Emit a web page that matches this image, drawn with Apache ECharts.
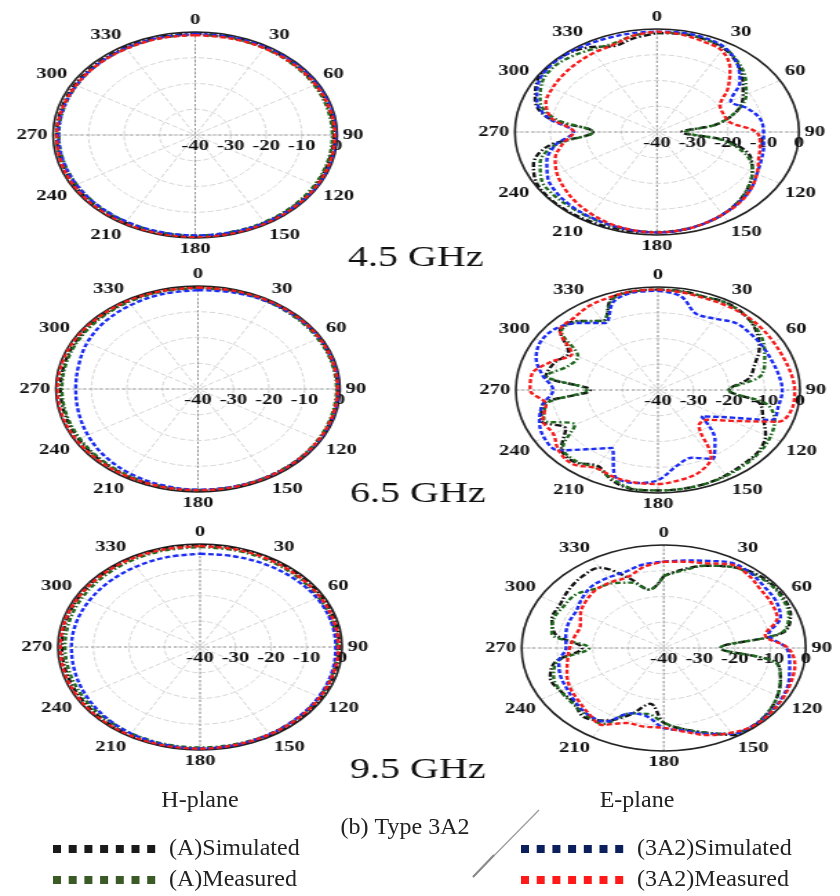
<!DOCTYPE html>
<html><head><meta charset="utf-8">
<script src="https://cdn.jsdelivr.net/npm/echarts@6/dist/echarts.min.js"></script>
<style>
html,body{margin:0;padding:0;background:#fff;width:840px;height:896px;overflow:hidden}
#topChart{position:absolute;left:0;top:0;width:609px;height:790px;transform:scaleX(1.3793);transform-origin:0 0}
#botChart{position:absolute;left:0;top:785px;width:840px;height:111px}
</style></head><body>
<div id="topChart"></div><div id="botChart"></div>
<script>
// ---------- DATA ----------
const hAngles = [0,15,30,45,60,75,90,105,120,135,150,165,180,195,210,225,240,255,270,285,300,315,330,345];
const eAngles = [0,10,20,30,40,50,60,70,80,90,100,110,120,130,140,150,160,170,180,190,200,210,220,230,240,250,260,270,280,290,300,310,320,330,340,350];
const angleTicks = [0,30,60,90,120,150,180,210,240,270,300,330];
const radiusTicks = [-40,-30,-20,-10,0];
const seriesNames = ['(A)Simulated','(A)Measured','(3A2)Simulated','(3A2)Measured'];
const freqLabels = ['4.5 GHz','6.5 GHz','9.5 GHz'];

// H-plane 4.5 GHz
const h45Black = [-0.6,-0.6,-0.7,-0.8,-0.9,-1,-1,-1,-0.9,-0.8,-0.7,-0.6,-0.6,-0.6,-0.7,-0.8,-0.9,-1,-1,-1,-0.9,-0.8,-0.7,-0.6];
const h45Green = [-1,-1,-1.1,-1.2,-1.3,-1.4,-1.4,-1.3,-1.2,-1.1,-1,-1,-1,-1,-1.1,-1.3,-1.5,-1.6,-1.6,-1.6,-1.5,-1.3,-1.2,-1.1];
const h45Blue  = [-0.8,-0.7,-0.6,-0.5,-0.3,-0.2,-0.1,-0.2,-0.3,-0.5,-0.7,-0.9,-1,-1.1,-1.2,-1.3,-1.4,-1.5,-1.5,-1.5,-1.4,-1.2,-1,-0.9];
const h45Red   = [-1.2,-1.2,-1.1,-1,-0.9,-0.8,-0.7,-0.6,-0.5,-0.4,-0.3,-0.3,-0.3,-0.3,-0.3,-0.4,-0.6,-0.8,-1,-1.2,-1.3,-1.3,-1.3,-1.2];
// H-plane 6.5 GHz
const h65Black = [-0.5,-0.5,-0.6,-0.6,-0.7,-0.7,-0.7,-0.7,-0.6,-0.6,-0.5,-0.5,-0.5,-0.6,-0.8,-1,-1.2,-1.3,-1.3,-1.2,-1,-0.8,-0.6,-0.5];
const h65Green = [-0.8,-0.8,-0.9,-1,-1,-1,-1,-1,-0.9,-0.8,-0.8,-0.8,-0.8,-0.9,-1.1,-1.4,-1.6,-1.7,-1.7,-1.6,-1.4,-1.2,-1,-0.9];
const h65Blue  = [-1.6,-1.2,-0.8,-0.6,-0.5,-0.4,-0.4,-0.4,-0.5,-0.6,-0.7,-0.8,-0.9,-1.3,-2,-3,-4.2,-5.2,-5.6,-5.2,-4,-3,-2.3,-1.8];
const h65Red   = [-0.6,-0.5,-0.4,-0.4,-0.5,-0.6,-0.7,-0.7,-0.7,-0.6,-0.6,-0.6,-0.7,-0.7,-0.7,-0.6,-0.5,-0.4,-0.4,-0.4,-0.4,-0.5,-0.5,-0.6];
// H-plane 9.5 GHz
const h95Black = [-0.3,-0.3,-0.4,-0.5,-0.6,-0.7,-0.8,-0.8,-0.7,-0.6,-0.5,-0.5,-0.5,-0.5,-0.6,-0.8,-1,-1.1,-1.1,-1,-0.8,-0.6,-0.4,-0.3];
const h95Green = [-1.2,-1.2,-1.3,-1.4,-1.5,-1.5,-1.4,-1.3,-1.2,-1.1,-1,-1,-1,-1.1,-1.3,-1.6,-1.8,-2,-2,-1.9,-1.7,-1.5,-1.3,-1.2];
const h95Blue  = [-3.8,-3.5,-3,-2.5,-2,-1.8,-1.8,-1.6,-1.4,-1.2,-0.9,-0.7,-0.6,-0.8,-1.2,-2,-2.8,-3.5,-3.8,-3.9,-4,-4,-4,-3.9];
const h95Red   = [-0.8,-0.8,-0.9,-1,-1,-1,-1,-1.1,-1,-0.9,-0.8,-0.7,-0.5,-0.4,-0.4,-0.4,-0.5,-0.6,-0.7,-0.7,-0.7,-0.7,-0.7,-0.8];

// E-plane 4.5 GHz
const e45Black = [-1.6,-1.3,-1.5,-2.5,-5,-8.5,-12,-16,-23,-33,-20,-12,-9,-6.5,-4.5,-3,-2,-1.2,-1,-0.8,-0.7,-0.5,-0.3,-0.3,-0.8,-3,-9,-22,-9,-3.5,-1,-0.2,-0.5,-2,-4.5,-3];
const e45Green = [-1.2,-1.2,-1.5,-2.2,-4.5,-7.5,-11,-16,-23,-32,-21,-13,-9,-6.5,-4.5,-3,-2,-1.4,-1.2,-1.2,-1.5,-1.8,-2,-2,-2.5,-5,-11,-22,-11,-5,-2.5,-1.5,-2,-3,-3.5,-2];
const e45Blue  = [-1,-0.8,-1,-2,-5,-9.5,-16,-13,-10.5,-10,-9.5,-8.7,-7.5,-5.5,-4.2,-3,-2,-1.3,-1,-1.2,-1.6,-2,-2.5,-3.2,-4.5,-7,-11,-16.5,-9,-4,-1.5,-0.5,-0.5,-0.8,-1,-1];
const e45Red   = [-1,-1.5,-2.5,-3.5,-8,-14,-19.5,-20,-19,-12,-10.5,-9.5,-7.5,-5.5,-4,-3,-2,-1.3,-1,-1.3,-2,-3.2,-4.5,-6,-7.5,-9.5,-13,-16.5,-10,-6.7,-6,-5.5,-5,-4.5,-4,-2];
// E-plane 6.5 GHz
const e65Black = [-1,-1,-1.5,-1,-2,-4,-7,-11,-14,-20,-11,-8.5,-5,-3,-2.5,-1.8,-1.2,-1,-1,-0.8,-2.5,-6,-3.5,-4.5,-10,-5,-7,-21,-8,-9,-11,-4,-5,-9,-2,-1];
const e65Green = [-1,-1.2,-1.5,-1.2,-2,-3.5,-5.5,-8,-11,-20,-9,-5,-3.5,-2.5,-2,-1.5,-1.2,-1,-1,-1,-3,-5.2,-4,-5,-13,-5.8,-8,-20,-8.2,-13,-14,-4.5,-5.3,-9,-2.5,-1.2];
const e65Blue  = [-1.5,-3,-8.5,-8,-6,-6,-6,-6,-5.5,-5,-5.5,-6,-19,-24,-15,-9,-12,-10,-5,-3.3,-4.5,-14,-10,-3.5,-3,-4.5,-7,-10.5,-7,-3.5,-2,-2.7,-6,-10,-3.5,-1.5];
const e65Red   = [-1,-1.5,-2,-2,-2,-2.2,-2.5,-2.5,-2,-1.5,-1.5,-4,-16,-22,-22,-10,-6,-4.5,-3.5,-3.5,-4,-5,-2.5,-3.5,-6,-5.5,-8,-4,-4,-8,-12,-4,-3.3,-2,-1.5,-1];
// E-plane 9.5 GHz
const e95Black = [-12,-9,-6,-3.5,-1.5,-0.8,-1,-2,-6,-24,-8,-5,-3,-1.5,-0.5,-1,-5,-8,-11,-18,-12.5,-7.5,-5,-7,-6.5,-6,-9,-17,-9,-6.5,-6.3,-5,-4,-4,-11,-17];
const e95Green = [-12,-9.5,-6,-3.5,-2,-1.2,-1.5,-2.5,-6.5,-24,-8,-5,-3,-1.5,-0.8,-1.5,-5,-8,-11,-14,-13,-6,-6,-6.5,-6.5,-7,-9.5,-19,-8,-7,-7.5,-7.7,-10,-11,-13,-17];
const e95Blue  = [-6.5,-5.5,-4,-1.8,-2,-3,-3.5,-5,-10,-5.5,-4,-2.5,-1.5,-1,-0.8,-1.5,-4.5,-7.5,-9,-13,-13,-7,-6.5,-7.5,-8.5,-9,-10,-12.5,-12,-11.5,-11.5,-10,-8.6,-8.5,-8.5,-7];
const e95Red   = [-6.5,-6,-5,-2.5,-3,-4.5,-5,-6,-11,-5,-2.5,-1.8,-1.2,-0.8,-0.6,-2,-4,-7,-9,-9,-9,-5.5,-7,-8.5,-9.5,-11,-12.5,-13.5,-14.5,-15,-13,-11.5,-10.4,-10.5,-10.6,-8];

// ---------- LAYOUT / STYLE ----------
const SX = 1.3793;          // horizontal stretch of the figure
const R = 103;              // polar radius (unstretched px)
const plots = [
  {cx:141.5, cy:135, ang:hAngles, vals:[h45Black,h45Green,h45Blue,h45Red]},
  {cx:476.3, cy:132, ang:eAngles, vals:[e45Black,e45Green,e45Blue,e45Red]},
  {cx:143.5, cy:389, ang:hAngles, vals:[h65Black,h65Green,h65Blue,h65Red]},
  {cx:477.0, cy:390, ang:eAngles, vals:[e65Black,e65Green,e65Blue,e65Red]},
  {cx:145.0, cy:647, ang:hAngles, vals:[h95Black,h95Green,h95Blue,h95Red]},
  {cx:481.2, cy:648, ang:eAngles, vals:[e95Black,e95Green,e95Blue,e95Red]}
];
const freqPos = [[301.5,258],[303,494],[303,770]];
const lineStyles = [
  {color:'#141414', type:[5,2,1.5,2], width:2.4},
  {color:'#1f6a1f', type:[4,2,1.5,2], width:2.4},
  {color:'#1c2cf0', type:[4,2], width:2.4},
  {color:'#f41c1c', type:[4,2], width:2.4}
];
const labelFont = {fontFamily:'"Liberation Serif", serif', fontWeight:'bold', fontSize:15, color:'#111'};

function closedData(vals, angs){
  const d = vals.map((v,i)=>[v, angs[i]]);
  d.push([vals[0], 360]);
  return d;
}

const polar=[], angleAxis=[], radiusAxis=[], series=[];
plots.forEach((p,k)=>{
  const m = 2*k, o = 2*k+1;
  polar.push({center:[p.cx,p.cy], radius:R});
  polar.push({center:[p.cx,p.cy], radius:R});
  angleAxis.push({
    polarIndex:m, type:'value', min:0, max:360, interval:30, startAngle:90, clockwise:true,
    axisLine:{lineStyle:{color:'#222', width:1.6}},
    axisTick:{show:false},
    axisLabel:Object.assign({margin:4, formatter:v=> angleTicks.indexOf(v)>=0 ? String(v) : ''}, labelFont),
    splitLine:{lineStyle:{color:'#d4d4d4', type:'dashed', width:1}}
  });
  radiusAxis.push({
    polarIndex:m, type:'value', min:radiusTicks[0], max:radiusTicks[radiusTicks.length-1], interval:10,
    axisLine:{show:false}, axisTick:{show:false}, axisLabel:{show:false},
    splitLine:{lineStyle:{color:'#d4d4d4', type:'dashed', width:1}}
  });
  angleAxis.push({
    polarIndex:o, type:'value', min:0, max:360, interval:90, startAngle:0,
    axisLine:{show:false}, axisTick:{show:false}, axisLabel:{show:false},
    splitLine:{lineStyle:{color:'#9a9a9a', type:[2,2], width:1}}
  });
  radiusAxis.push({
    polarIndex:o, type:'value', min:radiusTicks[0], max:radiusTicks[radiusTicks.length-1], interval:10,
    axisLine:{show:false}, axisTick:{show:false}, splitLine:{show:false},
    axisLabel:Object.assign({margin:-4, verticalAlign:'top', showMinLabel:true, showMaxLabel:true}, labelFont)
  });
  p.vals.forEach((vals,j)=>{
    series.push({
      type:'line', coordinateSystem:'polar', polarIndex:m, name:seriesNames[j],
      data:closedData(vals,p.ang), showSymbol:false, smooth:0.35,
      lineStyle:lineStyles[j], z:3+j, silent:true, animation:false
    });
  });
});

const chartTop = echarts.init(document.getElementById('topChart'), null, {renderer:'canvas'});
chartTop.setOption({
  animation:false,
  polar, angleAxis, radiusAxis, series,
  graphic: freqLabels.map((t,i)=>({
    type:'text', x:freqPos[i][0], y:freqPos[i][1],
    style:{text:t, fontFamily:'"Liberation Serif", serif', fontSize:29, fill:'#111', textAlign:'center', textVerticalAlign:'middle'}
  }))
});

// ---------- caption / legend ----------
const chartBot = echarts.init(document.getElementById('botChart'), null, {renderer:'canvas'});
const legendColors = ['#1a1a1a','#3a5a26','#0b1f5c','#ff1a1a'];
const legendPos = [[53,64],[53,95],[521,64],[521,95]];
const capFont = '"Liberation Serif", serif';
const g = [];
function txt(t,x,y,align){ g.push({type:'text', x, y, style:{text:t, fontFamily:capFont, fontSize:24, fill:'#222', textAlign:align||'center', textVerticalAlign:'middle'}}); }
txt('H-plane',200,16);
txt('E-plane',637,16);
txt('(b) Type 3A2',405,43);
g.push({type:'line', shape:{x1:539,y1:25,x2:473,y2:92}, style:{stroke:'#9a9a9a', lineWidth:1.2}});
g.push({type:'line', shape:{x1:494,y1:70,x2:473,y2:92}, style:{stroke:'#8a8a8a', lineWidth:2}});
legendPos.forEach((p,i)=>{
  for(let s=0;s<7;s++){
    g.push({type:'rect', shape:{x:p[0]+s*15.7, y:p[1]-4, width:8, height:8}, style:{fill:legendColors[i]}});
  }
  txt(seriesNames[i], p[0] + 116, p[1], 'left');
});
chartBot.setOption({animation:false, graphic:g});
</script>
</body></html>
